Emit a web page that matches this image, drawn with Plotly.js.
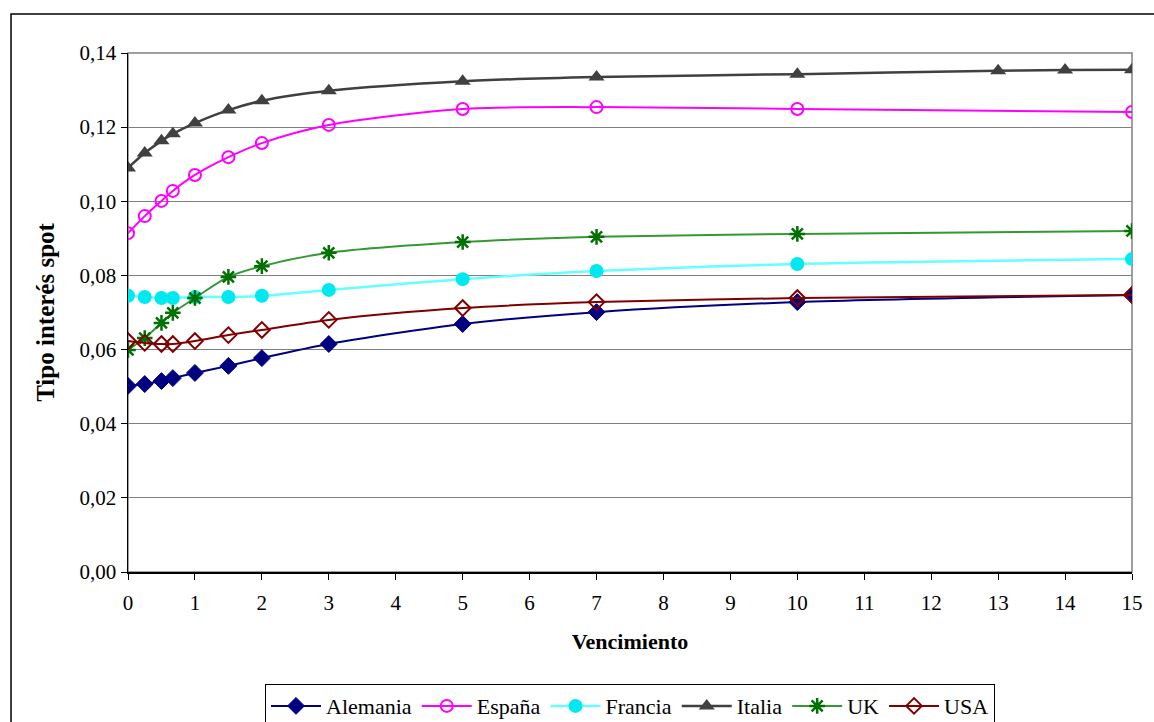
<!DOCTYPE html>
<html><head><meta charset="utf-8">
<script src="https://cdn.plot.ly/plotly-3.0.1.min.js"></script>
<style>html,body{margin:0;padding:0;background:#fff;}#chart{width:1154px;height:722px;}</style>
</head><body><div id="chart"></div>
<script>
const maturities = [0, 0.25, 0.5, 0.67, 1, 1.5, 2, 3, 5, 7, 10, 15];
const maturitiesItalia = [0, 0.25, 0.5, 0.67, 1, 1.5, 2, 3, 5, 7, 10, 13, 14, 15];
const alemania = [0.0502, 0.0507, 0.0515, 0.0523, 0.0537, 0.0556, 0.0577, 0.0615, 0.0669, 0.0701, 0.0728, 0.0747];
const espana   = [0.0914, 0.0960, 0.1001, 0.1028, 0.1071, 0.1119, 0.1157, 0.1206, 0.1249, 0.1254, 0.1249, 0.1241];
const francia  = [0.0745, 0.0742, 0.0739, 0.0739, 0.0742, 0.0742, 0.0745, 0.0761, 0.0790, 0.0812, 0.0831, 0.0844];
const italia   = [0.1090, 0.1130, 0.1163, 0.1182, 0.1211, 0.1246, 0.1271, 0.1298, 0.1324, 0.1335, 0.1343, 0.1352, 0.1354, 0.1355];
const uk       = [0.0599, 0.0631, 0.0672, 0.0699, 0.0739, 0.0796, 0.0825, 0.0861, 0.0890, 0.0904, 0.0912, 0.0920];
const usa      = [0.0623, 0.0618, 0.0615, 0.0615, 0.0623, 0.0639, 0.0653, 0.0680, 0.0712, 0.0728, 0.0739, 0.0747];
const seriesNames = ['Alemania', 'España', 'Francia', 'Italia', 'UK', 'USA'];
const xTicks = [0,1,2,3,4,5,6,7,8,9,10,11,12,13,14,15];
const yTicks = [0, 0.02, 0.04, 0.06, 0.08, 0.10, 0.12, 0.14];

function tr(name, x, y, lineColor, lineW, sym, mColor, mSize, mLineW) {
  return {
    type: 'scatter', mode: 'lines+markers', name: name, x: x, y: y,
    line: {color: lineColor, width: lineW, shape: 'spline', smoothing: 0.8},
    marker: {symbol: sym, color: mColor, size: mSize, line: {color: mColor, width: mLineW}}
  };
}
const data = [
  tr(seriesNames[0], maturities, alemania, '#000080', 2, 'diamond', '#000080', 13, 1),
  tr(seriesNames[1], maturities, espana, '#FF00FF', 2, 'circle-open', '#FF00FF', 12, 2),
  tr(seriesNames[2], maturities, francia, '#66FFFF', 2.5, 'circle', '#00E8F0', 14, 0),
  tr(seriesNames[3], maturitiesItalia, italia, '#404040', 2.5, 'triangle-up', '#404040', 14, 0),
  tr(seriesNames[4], maturities, uk, '#339933', 2, 'asterisk-open', '#007000', 13, 2.5),
  tr(seriesNames[5], maturities, usa, '#800000', 2, 'diamond-open', '#800000', 12, 2)
];
const font = 'Liberation Serif';
const tickFont = {family: font, size: 21, color: '#000'};
const layout = {
  width: 1154, height: 722,
  margin: {l: 128, r: 22, t: 53, b: 150, autoexpand: false},
  paper_bgcolor: '#fff', plot_bgcolor: '#fff',
  separators: ',.',
  font: {family: font, size: 21, color: '#000'},
  showlegend: true,
  legend: {orientation: 'h', x: 0.5, xanchor: 'center', y: -0.216, yanchor: 'top',
           bordercolor: '#000', borderwidth: 1, font: {family: font, size: 22, color: '#000'},
           itemwidth: 50, tracegroupgap: 0},
  xaxis: {range: [0, 15], tickvals: xTicks, ticktext: xTicks.map(String), tickfont: tickFont,
          automargin: false, ticklabelstandoff: 5,
          showgrid: false, zeroline: false, showline: true, linecolor: '#000', linewidth: 1.5,
          ticks: 'outside', ticklen: 6, tickcolor: '#000',
          title: {text: '<b>Vencimiento</b>', font: {family: font, size: 22, color: '#000'}, standoff: 20}},
  yaxis: {range: [0, 0.14], tickvals: yTicks, tickformat: '.2f', tickfont: tickFont,
          automargin: false,
          showgrid: true, gridcolor: '#808080', gridwidth: 1, zeroline: false,
          showline: true, linecolor: '#000', linewidth: 1.5,
          ticks: 'outside', ticklen: 6, tickcolor: '#000',
          title: {text: '<b>Tipo interés spot</b>', font: {family: font, size: 25, color: '#000'}, standoff: 18}},
  shapes: [
    {type: 'rect', xref: 'paper', yref: 'paper', x0: 0, x1: 1, y0: 0, y1: 1,
     line: {color: '#808080', width: 1.5}, layer: 'below'},
    {type: 'rect', xref: 'paper', yref: 'paper', x0: -0.1165, x1: 1.05, y0: -0.4, y1: 1.0751,
     line: {color: '#000', width: 1.5}, layer: 'below'}
  ]
};
Plotly.newPlot('chart', data, layout, {displayModeBar: false, staticPlot: true});
</script></body></html>
